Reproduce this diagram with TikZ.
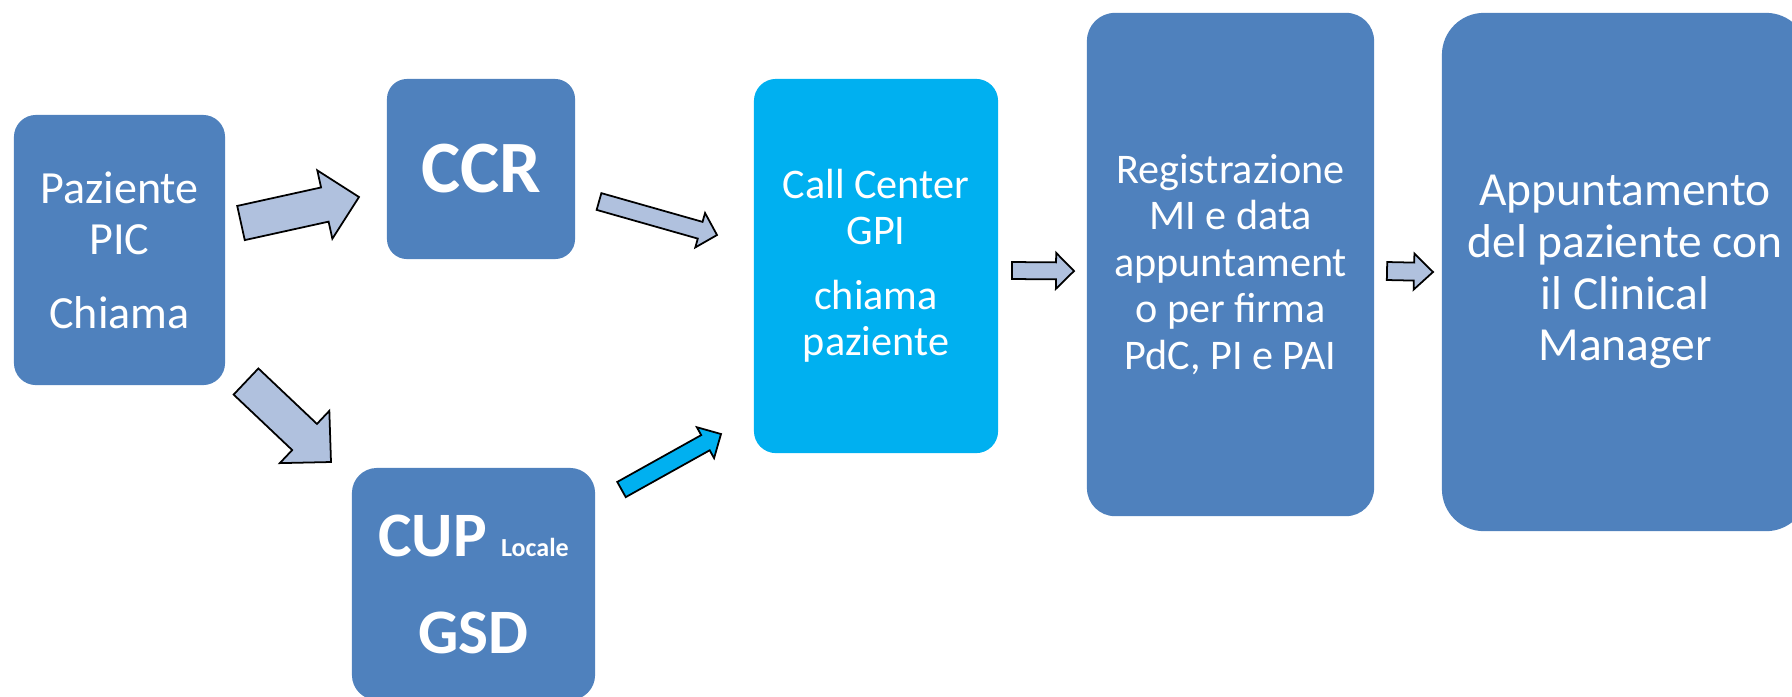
\documentclass[tikz,border=0pt]{standalone}
\usepackage{fontspec}
\setmainfont{Carlito}
\usetikzlibrary{calc}

\definecolor{boxblue}{HTML}{4F81BD}
\definecolor{callcyan}{HTML}{00B0F0}
\definecolor{arrowfill}{HTML}{B0C1DE}

\tikzset{
  stepbox/.style={fill=boxblue, text=white, align=center, inner sep=0pt},
  arrowgray/.style={fill=arrowfill, draw=black, line width=0.5pt, line join=miter},
  arrowcyan/.style={fill=callcyan, draw=black, line width=0.5pt, line join=miter},
}

% block arrow: [style]{tail}{tip}{shaft half width}{head half width}{head length}, sizes in px
\newcommand{\blockarrow}[6][arrowgray]{%
  \coordinate (hb) at ($(#3)!#6*0.01cm!(#2)$);
  \draw[#1] ($(#2)!#4*0.01cm!90:(#3)$) -- ($(hb)!#4*0.01cm!90:(#3)$)
    -- ($(hb)!#5*0.01cm!90:(#3)$) -- (#3)
    -- ($(hb)!#5*0.01cm!-90:(#3)$) -- ($(hb)!#4*0.01cm!-90:(#3)$)
    -- ($(#2)!#4*0.01cm!-90:(#3)$) -- cycle;
}

\begin{document}
\begin{tikzpicture}[x=0.01cm, y=-0.01cm]
  \useasboundingbox (0,0) rectangle (1792,696);

  % Boxes
  \node[stepbox, minimum width=2.11cm, minimum height=2.70cm, rounded corners=2.2mm,
        font=\fontsize{13.1}{14.5}\selectfont] (paz) at (119.5,250)
        {Paziente\\PIC\\[6.5pt]Chiama};
  \node[stepbox, minimum width=1.88cm, minimum height=1.80cm, rounded corners=2mm,
        font=\bfseries\fontsize{21}{25}\selectfont] (ccr) at (481,169) {CCR};
  \node[stepbox, minimum width=2.43cm, minimum height=2.32cm, rounded corners=2.5mm,
        font=\bfseries\fontsize{18}{27.6}\selectfont] (cup) at (473.5,584)
        {CUP {\fontsize{7.4}{8}\selectfont Locale}\\GSD};
  \node[stepbox, fill=callcyan, minimum width=2.44cm, minimum height=3.74cm, rounded corners=2.2mm,
        font=\fontsize{12}{13.1}\selectfont] (gpi) at (876,266)
        {Call Center\\GPI\\[5.4pt]chiama\\paziente};
  \node[stepbox, minimum width=2.87cm, minimum height=5.03cm, rounded corners=2.8mm,
        font=\fontsize{12}{13.2}\selectfont] (reg) at (1230.5,264.5)
        {Registrazione\\MI e data\\appuntament\\o per firma\\PdC, PI e PAI};
  \node[stepbox, minimum width=3.66cm, minimum height=5.18cm, rounded corners=4.2mm,
        font=\fontsize{13.5}{14.7}\selectfont] (app) at (1625,272)
        {Appuntamento\\del paziente con\\il Clinical\\Manager};

  % Arrow ends
  \coordinate (paz-ccr-s) at (241,223);    \coordinate (paz-ccr-e) at (359,197);
  \coordinate (ccr-gpi-s) at (599,201.5);  \coordinate (ccr-gpi-e) at (717,235);
  \coordinate (paz-cup-s) at (246,381.5);  \coordinate (paz-cup-e) at (331,462);
  \coordinate (cup-gpi-s) at (621.5,489.5);\coordinate (cup-gpi-e) at (721,434);
  \coordinate (gpi-reg-s) at (1012,270.5); \coordinate (gpi-reg-e) at (1074,271);
  \coordinate (reg-app-s) at (1387,271);   \coordinate (reg-app-e) at (1433,272);

  % Block arrows
  \blockarrow{paz-ccr-s}{paz-ccr-e}{17.5}{35}{35}
  \blockarrow{ccr-gpi-s}{ccr-gpi-e}{8.7}{17.9}{17.5}
  \blockarrow{paz-cup-s}{paz-cup-e}{18}{36}{36.4}
  \blockarrow[arrowcyan]{cup-gpi-s}{cup-gpi-e}{8.7}{17.7}{17.8}
  \blockarrow{gpi-reg-s}{gpi-reg-e}{8.5}{18}{18}
  \blockarrow{reg-app-s}{reg-app-e}{9}{18}{19}

\end{tikzpicture}
\end{document}
